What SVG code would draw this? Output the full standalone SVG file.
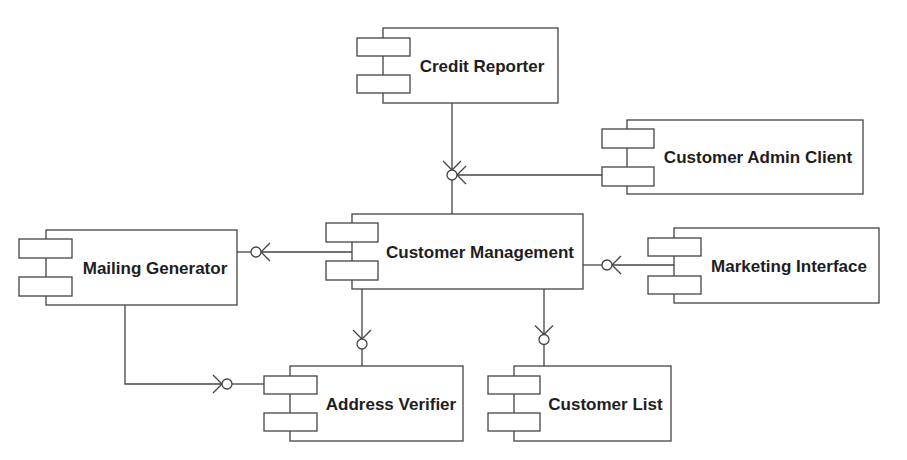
<svg xmlns="http://www.w3.org/2000/svg" width="907" height="460" viewBox="0 0 907 460">
<style>
.box{fill:#fff;stroke:#444;stroke-width:1.3}
.port{fill:#fff;stroke:#444;stroke-width:1.3}
.lbl{font-family:"Liberation Sans",Arial,sans-serif;font-weight:bold;font-size:17px;fill:#1e1e1e;text-anchor:middle}
.ln{fill:none;stroke:#444;stroke-width:1.3}
.ball{fill:#fff;stroke:#444;stroke-width:1.3}
</style>
<rect width="907" height="460" fill="#fff"/>
<g id="connectors">
  <!-- Credit Reporter -> CM interface -->
  <line class="ln" x1="452" y1="103" x2="452" y2="170"/>
  <polyline class="ln" points="443,161 452,170 461,161"/>
  <line class="ln" x1="452" y1="180" x2="452" y2="214"/>
  <!-- Customer Admin Client -> CM interface -->
  <line class="ln" x1="602" y1="175" x2="457" y2="175"/>
  <polyline class="ln" points="466,166 457,175 466,184"/>
  <circle class="ball" cx="452" cy="175" r="5"/>
  <!-- CM -> Mailing Generator -->
  <line class="ln" x1="352" y1="252" x2="261" y2="252"/>
  <polyline class="ln" points="270,243 261,252 270,261"/>
  <line class="ln" x1="251" y1="252" x2="237" y2="252"/>
  <circle class="ball" cx="256" cy="252" r="5"/>
  <!-- Marketing Interface -> CM -->
  <line class="ln" x1="674" y1="265" x2="612" y2="265"/>
  <polyline class="ln" points="621,256 612,265 621,274"/>
  <line class="ln" x1="602" y1="265" x2="583" y2="265"/>
  <circle class="ball" cx="607" cy="265" r="5"/>
  <!-- CM -> Address Verifier -->
  <line class="ln" x1="362" y1="289" x2="362" y2="339"/>
  <polyline class="ln" points="353,330 362,339 371,330"/>
  <line class="ln" x1="362" y1="349" x2="362" y2="366"/>
  <circle class="ball" cx="362" cy="344" r="5"/>
  <!-- CM -> Customer List -->
  <line class="ln" x1="544" y1="289" x2="544" y2="334.5"/>
  <polyline class="ln" points="535,325.5 544,334.5 553,325.5"/>
  <line class="ln" x1="544" y1="344.5" x2="544" y2="366"/>
  <circle class="ball" cx="544" cy="339.5" r="5"/>
  <!-- Mailing Generator -> Address Verifier -->
  <polyline class="ln" points="125,305 125,384 222,384"/>
  <polyline class="ln" points="213,375 222,384 213,393"/>
  <line class="ln" x1="232" y1="384" x2="264" y2="384"/>
  <circle class="ball" cx="227" cy="384" r="5"/>
</g>
<g id="credit-reporter">
  <rect class="box" x="383" y="28" width="175" height="75"/>
  <rect class="port" x="357" y="38" width="53" height="18"/>
  <rect class="port" x="357" y="75" width="53" height="18"/>
  <text class="lbl" x="482" y="72">Credit Reporter</text>
</g>
<g id="customer-admin-client">
  <rect class="box" x="627" y="120" width="236" height="74"/>
  <rect class="port" x="602" y="129" width="52" height="19"/>
  <rect class="port" x="602" y="167" width="52" height="19"/>
  <text class="lbl" x="758" y="163">Customer Admin Client</text>
</g>
<g id="customer-management">
  <rect class="box" x="352" y="214" width="231" height="75"/>
  <rect class="port" x="326" y="223" width="52" height="19"/>
  <rect class="port" x="326" y="261" width="52" height="19"/>
  <text class="lbl" x="480" y="257.5">Customer Management</text>
</g>
<g id="mailing-generator">
  <rect class="box" x="46" y="230" width="191" height="75"/>
  <rect class="port" x="19" y="239" width="53" height="19"/>
  <rect class="port" x="19" y="277" width="53" height="19"/>
  <text class="lbl" x="155" y="273.5">Mailing Generator</text>
</g>
<g id="marketing-interface">
  <rect class="box" x="674" y="228" width="205" height="75"/>
  <rect class="port" x="648" y="238" width="53" height="18"/>
  <rect class="port" x="648" y="276" width="53" height="18"/>
  <text class="lbl" x="789" y="271.5">Marketing Interface</text>
</g>
<g id="address-verifier">
  <rect class="box" x="290" y="366" width="173" height="75"/>
  <rect class="port" x="264" y="376" width="53" height="18"/>
  <rect class="port" x="264" y="413" width="53" height="18"/>
  <text class="lbl" x="391" y="409.5">Address Verifier</text>
</g>
<g id="customer-list">
  <rect class="box" x="514" y="366" width="157" height="75"/>
  <rect class="port" x="488" y="376" width="52" height="18"/>
  <rect class="port" x="488" y="413" width="52" height="18"/>
  <text class="lbl" x="605.5" y="409.5">Customer List</text>
</g>
</svg>
